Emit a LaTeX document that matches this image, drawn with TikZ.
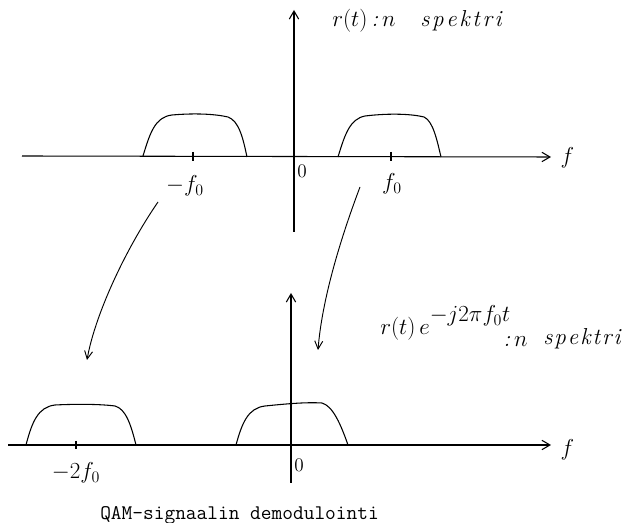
\documentclass[tikz,border=0pt]{standalone}
\usetikzlibrary{arrows.meta}
\begin{document}
\begin{tikzpicture}[x=0.75pt,y=-0.75pt,
  axis/.style={line width=0.8pt,-{Straight Barb[length=6pt,width=7pt]}},
  plain/.style={line width=0.8pt},
  bump/.style={line width=0.8pt},
  curvarr/.style={line width=0.7pt,-{Straight Barb[length=6pt,width=6pt]}},
  hand/.style={font=\itshape\LARGE,inner sep=0pt},
  lab/.style={font=\LARGE},
  captiontext/.style={font=\ttfamily\fontsize{15.6}{18}\selectfont}]
\useasboundingbox (0,0) rectangle (626,523);
% ---------- top spectrum ----------
\coordinate (tvb) at (294,232);
\coordinate (tvt) at (294,10);
\coordinate (thl) at (22,156);
\coordinate (thr) at (551,157);
\draw[axis] (tvb) -- (tvt);
\draw[axis] (thl) -- (thr);
\node[lab,anchor=west] (tf) at (556,158) {$f$};
\node[hand,anchor=base west] (tlab) at (332,27) {$r(t)$\,:\,$n$};
\node[hand,anchor=base west] (tlab2) at (420,27) {s\kern2pt p\kern2pt e\kern2pt k\kern2pt t\kern2pt r\kern2pt i};
% ticks
\draw[plain] (193,152) -- (193,161);
\draw[plain] (391,152) -- (391,161);
\node[lab] (tmf) at (185,186) {$-f_0$};
\node[lab] (tpf) at (392,184) {$f_0$};
\node[font=\Large] (t0) at (302,171) {$0$};
% bumps
\draw[bump] (143,156) .. controls (150,133) and (155,117) .. (172,115)
  .. controls (195,113) and (215,114) .. (228,117)
  .. controls (239,121) and (243,138) .. (247,157);
\draw[bump] (338,157) .. controls (345,134) and (350,119) .. (365,116)
  .. controls (390,113) and (412,114) .. (424,117)
  .. controls (433,121) and (437,140) .. (441,157);
% ---------- curved arrows ----------
\coordinate (a1s) at (158,202);
\coordinate (a1e) at (87,360);
\coordinate (a2s) at (360,187);
\coordinate (a2e) at (318,350);
\draw[curvarr] (a1s) .. controls (125,250) and (95,315) .. (a1e);
\draw[curvarr] (a2s) .. controls (340,240) and (322,300) .. (a2e);
% ---------- bottom spectrum ----------
\coordinate (bvb) at (291,483);
\coordinate (bvt) at (291,293);
\coordinate (bhl) at (8,445);
\coordinate (bhr) at (551,445);
\draw[axis] (bvb) -- (bvt);
\draw[axis] (bhl) -- (bhr);
\node[lab,anchor=west] (bf) at (556,450) {$f$};
\draw[plain] (76,441) -- (76,449);
\node[lab] (bm) at (76,473) {$-2f_0$};
\node[font=\Large] (b0) at (299,465) {$0$};
\draw[bump] (26,445) .. controls (32,422) and (38,407) .. (55,405)
  .. controls (75,404) and (100,404) .. (115,406)
  .. controls (126,409) and (131,425) .. (136,445);
\draw[bump] (236,445) .. controls (242,423) and (248,408) .. (265,406)
  .. controls (285,404) and (305,402) .. (322,403)
  .. controls (333,406) and (341,425) .. (348,445);
\node[hand,anchor=base west] (blab) at (380,335) {$r(t)\,e$\raisebox{10pt}{$-j2\pi f_0 t$}};
\node[hand,anchor=base west] (blab2) at (503,347) {:\,$n$};
\node[hand,anchor=base west] (blab3) at (543,345) {s\kern1.5pt p\kern1.5pt e\kern1.5pt k\kern1.5pt t\kern1.5pt r\kern1.5pt i};
% caption
\node[captiontext,anchor=west,inner sep=0pt] (captxt) at (100,515) {QAM-signaalin demodulointi};
\end{tikzpicture}
\end{document}
